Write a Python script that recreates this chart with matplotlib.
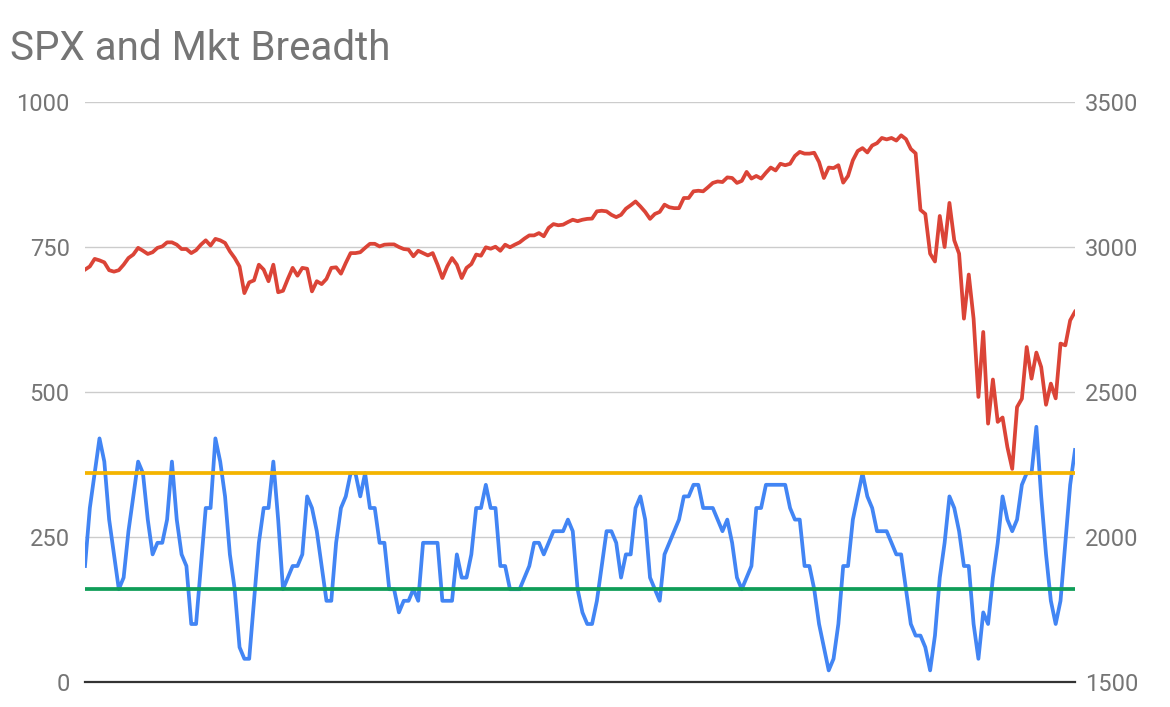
import numpy as np
import matplotlib
matplotlib.use("Agg")
import matplotlib.pyplot as plt

# daily closes, mid June 2019 .. early April 2020
spx = [2922, 2933, 2959, 2954, 2947, 2920, 2915, 2920, 2939, 2962,
       2974, 2997, 2987, 2976, 2982, 2997, 3002, 3016, 3016, 3008,
       2993, 2993, 2979, 2989, 3008, 3023, 3005, 3028, 3023, 3014,
       2985, 2962, 2933, 2841, 2878, 2885, 2939, 2922, 2882, 2939,
       2844, 2849, 2890, 2928, 2901, 2928, 2925, 2847, 2882, 2872,
       2890, 2928, 2930, 2908, 2945, 2979, 2979, 2982, 2997, 3011,
       3011, 3002, 3008, 3009, 3009, 3000, 2993, 2991, 2968, 2987,
       2979, 2971, 2979, 2939, 2893, 2933, 2962, 2939, 2893, 2928,
       2941, 2974, 2970, 2999, 2994, 3001, 2987, 3008, 2999, 3008,
       3016, 3029, 3040, 3040, 3048, 3037, 3066, 3079, 3075, 3077,
       3086, 3094, 3089, 3094, 3097, 3098, 3123, 3125, 3123, 3111,
       3103, 3111, 3132, 3144, 3157, 3140, 3121, 3097, 3114, 3121,
       3146, 3137, 3134, 3134, 3169, 3169, 3192, 3194, 3192, 3206,
       3221, 3226, 3224, 3240, 3238, 3221, 3228, 3259, 3236, 3245,
       3236, 3256, 3274, 3264, 3287, 3282, 3287, 3314, 3328, 3322,
       3322, 3325, 3293, 3238, 3274, 3272, 3282, 3222, 3245, 3299,
       3331, 3341, 3326, 3350, 3358, 3376, 3371, 3376, 3367, 3385,
       3372, 3338, 3323, 3128, 3114, 2977, 2950, 3107, 3000, 3152,
       3023, 2977, 2753, 2905, 2753, 2483, 2707, 2391, 2543, 2397,
       2412, 2310, 2235, 2448, 2477, 2655, 2546, 2636, 2586, 2456,
       2529, 2478, 2667, 2661, 2747, 2777]

breadth = [200, 300, 360, 420, 380, 280, 220, 160, 180, 260,
           320, 380, 360, 280, 220, 240, 240, 280, 380, 280,
           220, 200, 100, 100, 200, 300, 300, 420, 380, 320,
           220, 160, 60, 40, 40, 140, 240, 300, 300, 380,
           280, 160, 180, 200, 200, 220, 320, 300, 260, 200,
           140, 140, 240, 300, 320, 360, 360, 320, 360, 300,
           300, 240, 240, 160, 160, 120, 140, 140, 160, 140,
           240, 240, 240, 240, 140, 140, 140, 220, 180, 180,
           220, 300, 300, 340, 300, 300, 200, 200, 160, 160,
           160, 180, 200, 240, 240, 220, 240, 260, 260, 260,
           280, 260, 160, 120, 100, 100, 140, 200, 260, 260,
           240, 180, 220, 220, 300, 320, 280, 180, 160, 140,
           220, 240, 260, 280, 320, 320, 340, 340, 300, 300,
           300, 280, 260, 280, 240, 180, 160, 180, 200, 300,
           300, 340, 340, 340, 340, 340, 300, 280, 280, 200,
           200, 160, 100, 60, 20, 40, 100, 200, 200, 280,
           320, 360, 320, 300, 260, 260, 260, 240, 220, 220,
           160, 100, 80, 80, 60, 20, 80, 180, 240, 320,
           300, 260, 200, 200, 100, 40, 120, 100, 180, 240,
           320, 280, 260, 280, 340, 360, 360, 440, 320, 220,
           140, 100, 140, 240, 340, 400]

upper_band = 360
lower_band = 160

left_ticks = [0, 250, 500, 750, 1000]
right_ticks = [1500, 2000, 2500, 3000, 3500]

RED = '#db4437'
BLUE = '#4285f4'
YELLOW = '#f4b400'
GREEN = '#0f9d58'
GREY_TXT = '#757575'

plt.rcParams['font.family'] = ['Roboto', 'DejaVu Sans']

x = np.arange(len(spx))

fig = plt.figure(figsize=(11.7, 7.07), dpi=100)
ax = fig.add_axes([85/1170, 25/707, 990/1170, 580/707])
ax2 = ax.twinx()

LW = 2.7
ax.plot(x, breadth, color=BLUE, lw=LW, zorder=3)
ax.hlines([upper_band], x[0], x[-1], color=YELLOW, lw=LW, zorder=4)
ax.hlines([lower_band], x[0], x[-1], color=GREEN, lw=LW, zorder=4)
ax2.plot(x, spx, color=RED, lw=LW, zorder=5)

ax.set_xlim(x[0], x[-1])
ax.set_ylim(0, 1000)
ax2.set_ylim(1500, 3500)
ax.set_xticks([])
ax.set_yticks(left_ticks)
ax2.set_yticks(right_ticks)
ax.set_yticklabels([str(t) for t in left_ticks])
ax2.set_yticklabels([str(t) for t in right_ticks])

ax.tick_params(axis='y', length=0, pad=11, labelsize=17, labelcolor=GREY_TXT)
ax2.tick_params(axis='y', length=0, pad=7, labelsize=17, labelcolor=GREY_TXT)

ax.grid(axis='y', color='#cccccc', lw=1.0)
ax.set_axisbelow(True)
for a in (ax, ax2):
    for s in ('top', 'left', 'right', 'bottom'):
        a.spines[s].set_visible(False)
ax.axhline(0, color='#333333', lw=1.6, zorder=6, clip_on=False)

fig.text(10/1170, 1 - 60/707, 'SPX and Mkt Breadth', fontsize=29,
         color=GREY_TXT, ha='left', va='baseline')

fig.savefig('out.png', dpi=100)
